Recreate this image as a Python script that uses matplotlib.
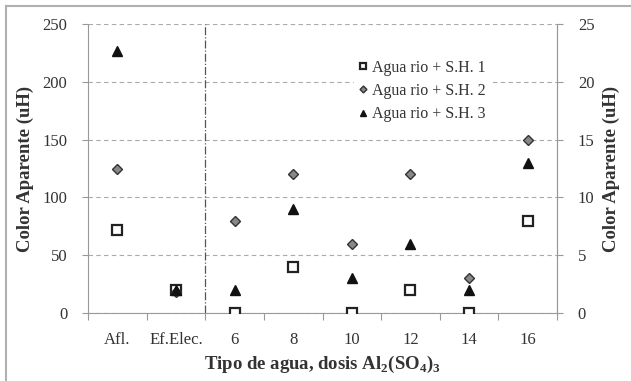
import numpy as np
import matplotlib
matplotlib.use("Agg")
import matplotlib.pyplot as plt
from matplotlib.lines import Line2D

plt.rcParams['font.family'] = ['Liberation Serif', 'DejaVu Serif']
plt.rcParams['mathtext.fontset'] = 'custom'
plt.rcParams['mathtext.rm'] = 'Liberation Serif'
plt.rcParams['mathtext.bf'] = 'Liberation Serif:bold'

# categories on the x axis
categories = ['Afl.', 'Ef.Elec.', '6', '8', '10', '12', '14', '16']

# color aparente (uH) per series
sh1 = [72, 20, 0, 40, 0, 20, 0, 80]
sh2 = [125, 18, 80, 120, 60, 120, 30, 150]
sh3 = [227, 20, 20, 90, 30, 60, 20, 130]

labels = ['Agua rio + S.H. 1', 'Agua rio + S.H. 2', 'Agua rio + S.H. 3']

txt = '#333333'
gridc = '#aaaaaa'
spinec = '#999999'

fig = plt.figure(figsize=(6.31, 3.81), dpi=100)
ax = fig.add_axes([88 / 631, 1 - 313 / 381, (557 - 88) / 631, (313 - 24) / 381])

x = np.arange(len(categories)) + 0.5

ax.plot(x, sh1, 's', ms=7, mfc='white', mec='#222222', mew=1.6, ls='none', label=labels[0], zorder=3)
ax.plot(x, sh2, 'D', ms=5, mfc='#888888', mec='#333333', mew=1.0, ls='none', label=labels[1], zorder=4)
ax.plot(x, sh3, '^', ms=7, mfc='#111111', mec='#111111', ls='none', label=labels[2], zorder=5)

ax.set_xlim(0, len(categories))
ax.set_ylim(0, 250)
ax.set_yticks(range(0, 251, 50))
ax.yaxis.grid(True, ls=(0, (4, 3)), color=gridc, lw=0.8)
ax.set_axisbelow(True)

# category boundaries as tick marks, names at centres
ax.set_xticks(np.arange(len(categories) + 1))
ax.set_xticklabels([])
ax.set_xticks(x, minor=True)
ax.set_xticklabels(categories, minor=True)
ax.tick_params(axis='x', which='major', direction='out', length=5, color=spinec)
ax.tick_params(axis='x', which='minor', length=0, pad=14, labelsize=12, labelcolor=txt)
ax.tick_params(axis='y', direction='out', length=4, color=spinec, labelsize=12, labelcolor=txt, pad=11)

# separator between reference samples and doses
ax.axvline(2, color='#555555', lw=0.9, ls='-.', zorder=2)

ax.spines['top'].set_visible(False)
for s in ['left', 'bottom', 'right']:
    ax.spines[s].set_color(spinec)

ax.set_ylabel('Color Aparente (uH)', fontsize=13.5, fontweight='bold', color=txt, labelpad=6)
ax.set_xlabel(r'Tipo de agua, dosis Al$_\mathbf{2}$(SO$_\mathbf{4}$)$_\mathbf{3}$',
              fontsize=13.5, fontweight='bold', color=txt, labelpad=4)

ax2 = ax.twinx()
ax2.set_ylim(0, 25)
ax2.set_yticks(range(0, 26, 5))
ax2.tick_params(axis='y', direction='out', length=4, color=spinec, labelsize=12, labelcolor=txt, pad=11)
for s in ['top', 'left', 'bottom']:
    ax2.spines[s].set_visible(False)
ax2.spines['right'].set_color(spinec)
ax2.set_ylabel('Color Aparente (uH)', fontsize=13.5, fontweight='bold', color=txt, labelpad=6)

leg = ax2.legend(*ax.get_legend_handles_labels(), loc='upper left',
                 bbox_to_anchor=(0.55, 0.92), frameon=True, fontsize=11.5,
                 handlelength=0.5, handletextpad=0.3, labelspacing=0.45,
                 borderpad=0.3, labelcolor=txt, markerscale=0.7)
leg.get_frame().set_edgecolor('white')
leg.get_frame().set_alpha(1)

# outer frame of the chart area
fig.add_artist(Line2D([6 / 631, 1], [1 - 6 / 381, 1 - 6 / 381], color='#b0b0b0', lw=1.5))
fig.add_artist(Line2D([6 / 631, 6 / 631], [0, 1 - 6 / 381], color='#b0b0b0', lw=1.5))

fig.savefig('out.png', dpi=100)
